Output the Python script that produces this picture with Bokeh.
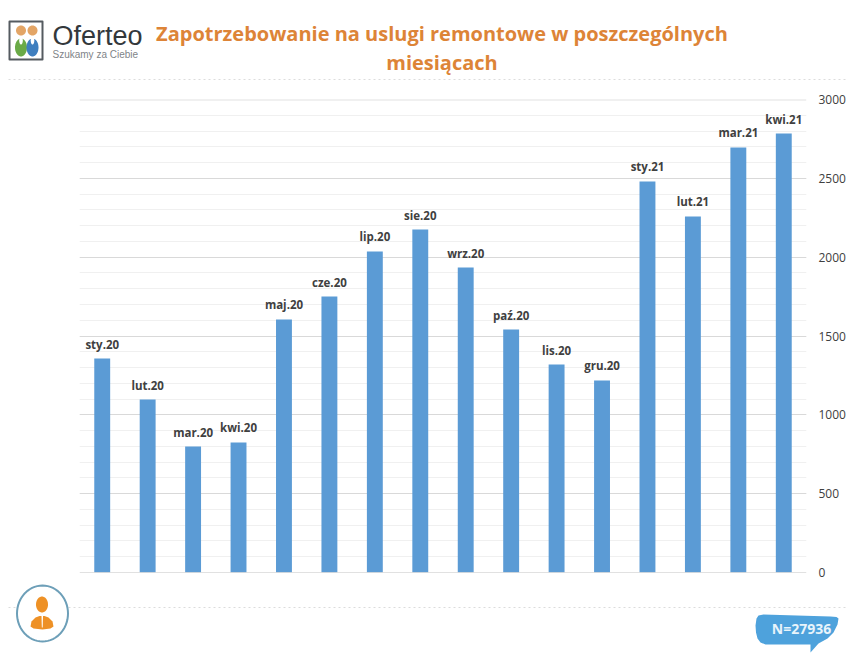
import numpy as np
from bokeh.core.properties import value
from bokeh.embed import file_html
from bokeh.models import ColumnDataSource, FixedTicker, Span
from bokeh.plotting import figure
from bokeh.resources import INLINE

months = ["sty.20", "lut.20", "mar.20", "kwi.20", "maj.20", "cze.20", "lip.20", "sie.20",
          "wrz.20", "paź.20", "lis.20", "gru.20", "sty.21", "lut.21", "mar.21", "kwi.21"]
demand = [1357, 1097, 799, 825, 1605, 1750, 2036, 2175,
          1934, 1541, 1319, 1218, 2480, 2258, 2696, 2784]
major_ticks = [0, 500, 1000, 1500, 2000, 2500, 3000]
minor_ticks = list(range(0, 3100, 100))
title_lines = ["Zapotrzebowanie na uslugi remontowe w poszczególnych", "miesiącach"]
sample_label = "N=27936"

W = 850
HEAD_H, MAIN_H, FOOT_H = 90, 490, 75   # header 0-90, chart 90-580, footer 580-655


def strip(y_top, y_bottom):
    f = figure(width=W, height=y_bottom - y_top, x_range=(0, W), y_range=(y_bottom, y_top),
               output_backend="svg", toolbar_location=None, tools="",
               min_border=0, min_border_left=0, min_border_right=0, min_border_top=0, min_border_bottom=0)
    f.axis.visible = False
    f.grid.visible = False
    f.outline_line_color = None
    return f


def ellipse(f, cx, cy, rx, ry, fill, line=None, lw=1):
    t = np.linspace(0, 2 * np.pi, 60, endpoint=False)
    f.patch(cx + rx * np.cos(t), cy + ry * np.sin(t), fill_color=fill, line_color=line, line_width=lw)


def label(f, x, y, text, size, color, style="normal", font="Open Sans", align="left"):
    f.text([x], [y], text=[text], text_font=value(font), text_font_size=size, text_color=color,
           text_font_style=style, text_align=align, text_baseline="middle")


# header
head = strip(0, HEAD_H)
head.line([8, 845], [79, 79], line_color="#dcdcdc", line_width=1, line_dash="2 3")
head.patch([9, 42, 42, 9], [21, 21, 59, 59], fill_color="white", line_color="#555b60", line_width=2,
           line_join="round")
ellipse(head, 20.5, 30, 5, 5, "#e3a566")
ellipse(head, 32, 30, 5, 5, "#e3a566")
ellipse(head, 20.5, 47, 6, 9, "#6aaa47")
ellipse(head, 32, 47, 6, 9, "#3f7fbf")
ellipse(head, 20.5, 40, 1.8, 4, "white")
ellipse(head, 32, 40, 1.8, 4, "white")
label(head, 52, 35, "Oferteo", "27px", "#33383c", font="Liberation Sans")
label(head, 52, 54, "Szukamy za Ciebie", "10px", "#808488", font="Liberation Sans")
label(head, 441.5, 33, title_lines[0], "20px", "#dd8437", "bold", align="center")
label(head, 441.5, 62, title_lines[1], "20px", "#dd8437", "bold", align="center")

# chart
p = figure(width=W, height=MAIN_H, x_range=months, y_range=(0, 3000), output_backend="svg",
           toolbar_location=None, tools="", y_axis_location="right",
           min_border_left=79, min_border_right=W - 806, min_border_top=99 - HEAD_H,
           min_border_bottom=HEAD_H + MAIN_H - 572)
p.outline_line_color = None
p.background_fill_color = "white"
p.xaxis.visible = False
p.xgrid.visible = False
ya = p.yaxis[0]
ya.ticker = FixedTicker(ticks=major_ticks, minor_ticks=minor_ticks)
ya.axis_line_color = None
ya.major_tick_line_color = None
ya.minor_tick_line_color = None
ya.major_tick_out = 0
ya.minor_tick_out = 0
ya.major_label_standoff = 12
ya.major_label_text_font = "Open Sans"
ya.major_label_text_font_size = "12px"
ya.major_label_text_color = "#404040"
p.ygrid.ticker = ya.ticker
p.ygrid.grid_line_color = "#d9d9d9"
p.ygrid.minor_grid_line_color = "#f0f0f0"

src = ColumnDataSource(dict(month=months, demand=demand))
p.vbar(x="month", top="demand", width=0.35, source=src, color="#5b9bd5", line_color=None)
p.text(x="month", y="demand", text="month", source=src, y_offset=-7, text_align="center",
       text_baseline="bottom", text_font=value("Open Sans"), text_font_size="11.5px",
       text_font_style="bold", text_color="#404040")
p.add_layout(Span(location=0, dimension="width", line_color="#c4c4c4", line_width=1))
p.add_layout(Span(location=3000, dimension="width", line_color="#e2e2e2", line_width=2))

# footer
foot = strip(HEAD_H + MAIN_H, HEAD_H + MAIN_H + FOOT_H)
foot.line([8, 845], [607, 607], line_color="#dcdcdc", line_width=1, line_dash="2 3")
ellipse(foot, 42, 613, 25.5, 28, "white", "#6d9fb8", 2)
ellipse(foot, 41.5, 604, 6, 8, "#ee9126")
foot.patch([30, 31, 35, 39, 44, 48, 52, 53, 50, 42, 33],
           [626, 621, 617, 615.5, 615.5, 617, 621, 626, 628, 629, 628], fill_color="#ee9126", line_color=None)
foot.patch([41, 42.5, 42.2, 41.3], [615.5, 615.5, 627, 627], fill_color="white", line_color=None)
foot.patch([755, 756, 758, 763, 830, 836, 838, 837, 833, 827, 818, 810, 810, 765, 760, 757, 755.5],
           [625, 618, 615, 614, 616, 616.5, 618, 624, 632, 638, 643, 652, 644, 644, 642, 638, 632],
           fill_color="#4ea2dc", line_color=None)
label(foot, 801, 628, sample_label, "14px", "#e8f4fb", "bold", align="center")

open("out.html", "w").write(file_html([head, p, foot], INLINE))
